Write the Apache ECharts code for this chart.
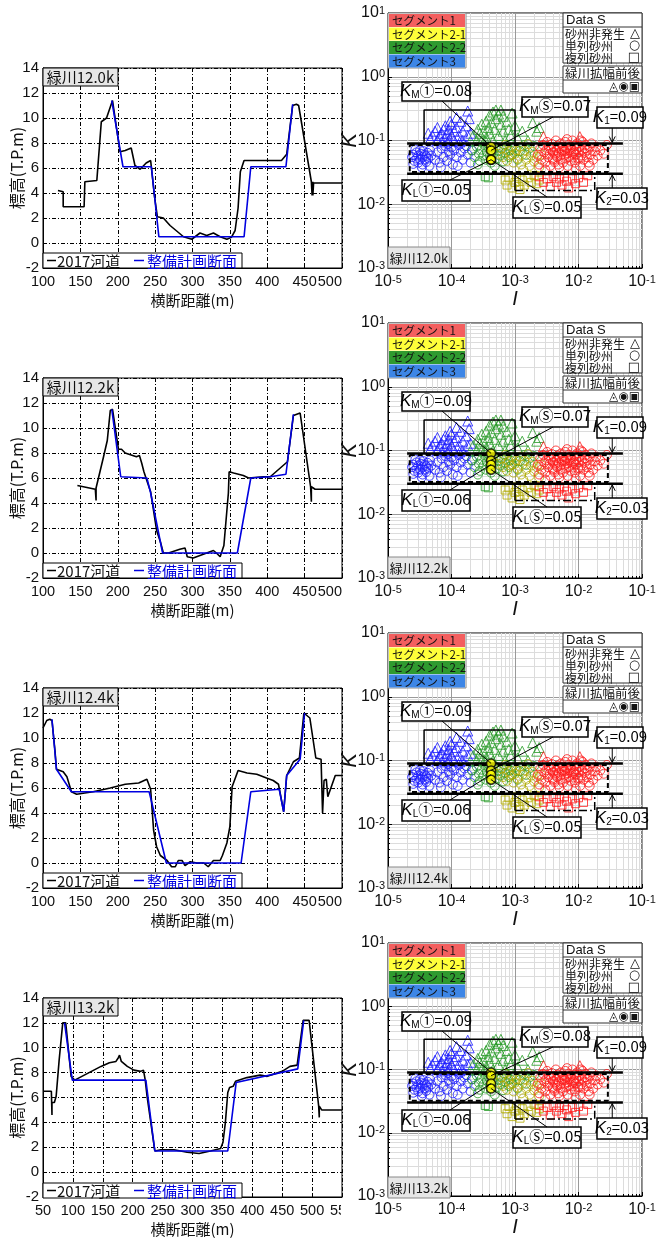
<!DOCTYPE html>
<html><head><meta charset="utf-8">
<script src="https://cdn.jsdelivr.net/npm/echarts@6/dist/echarts.min.js"></script>
<style>html,body{margin:0;padding:0;background:#fff}#c{width:659px;height:1238px}</style>
</head><body><div id="c"></div>
<script>
// ---------------- data ----------------
const sections = ['緑川12.0k', '緑川12.2k', '緑川12.4k', '緑川13.2k'];
const xMin = [100, 100, 100, 50];
const xMax = [500, 500, 500, 550];

const river_120 = [[120,4.2],[127,4.1],[127,2.9],[155,2.9],[156,4.9],[172,5.0],[178,9.7],[185,10.0],[193,11.4],[203,7.3],[210,7.4],[218,7.6],[223,6.2],[230,5.9],[238,6.4],[244,6.6],[249,3.8],[253,2.1],[261,2.0],[270,1.4],[288,0.5],[299,0.3],[310,0.8],[319,0.6],[328,0.8],[337,0.5],[346,0.3],[352,0.45],[357,1.0],[361,2.8],[364,5.7],[369,6.6],[419,6.6],[426,7.1],[434,11.0],[439,11.1],[442,11.0],[459,4.9],[460,3.8],[461,4.9],[461,3.8],[462,4.8],[500,4.8]];
const plan_120 = [[192,11.4],[207,6.1],[245,6.1],[255,0.5],[369,0.5],[378,6.1],[425,6.1],[434,11.1]];

const river_122 = [[146,5.4],[170,5.1],[171,4.2],[171,5.2],[181,7.7],[186,9.0],[190,11.4],[193,11.5],[201,8.3],[205,8.3],[210,8.0],[225,7.7],[229,7.8],[232,7.2],[235,6.5],[240,5.6],[244,4.9],[252,1.8],[257,0.9],[261,0.0],[268,0.0],[273,0.1],[283,0.3],[290,0.4],[293,-0.3],[301,-0.4],[310,-0.2],[319,0.0],[328,0.2],[332,0.0],[337,-0.3],[339,-0.4],[342,0.6],[346,3.4],[348,4.8],[349,6.5],[355,6.4],[368,6.2],[375,6.0],[395,6.1],[404,6.1],[427,7.3],[435,11.0],[444,11.2],[458,5.3],[459,4.1],[459,5.3],[464,5.1],[500,5.1]];
const plan_122 = [[192,11.5],[204,6.1],[239,6.0],[244,4.8],[260,0.0],[360,0.0],[378,6.0],[404,6.1],[425,6.3],[435,11.1]];

const river_124 = [[100,10.8],[105,11.4],[109,11.5],[112,11.4],[116,9.0],[118,7.5],[127,7.3],[132,6.9],[138,5.7],[145,5.5],[167,5.7],[190,6.0],[210,6.3],[228,6.4],[239,6.7],[241,6.7],[244,5.9],[248,2.6],[252,1.3],[257,0.6],[266,0.2],[272,-0.3],[277,-0.3],[281,0.2],[286,0.2],[290,-0.2],[297,0.1],[306,0.0],[315,0.0],[321,-0.3],[328,0.2],[337,0.2],[340,0.6],[346,1.6],[350,2.9],[353,6.1],[361,7.4],[373,7.2],[386,7.1],[399,6.8],[408,6.6],[415,6.3],[422,4.1],[426,7.0],[435,8.1],[443,8.4],[449,12.0],[457,11.6],[465,8.4],[472,8.3],[474,4.0],[476,6.6],[479,6.7],[481,5.3],[491,7.0],[500,7.0]];
const plan_124 = [[112,11.5],[118,7.5],[138,5.7],[242,5.7],[265,0.0],[365,0.0],[378,5.7],[416,5.9],[422,4.1],[426,7.0],[444,8.3],[450,12.0]];

const river_132 = [[50,6.5],[64,6.5],[65,4.6],[65,5.6],[69,5.6],[72,6.1],[77,9.0],[83,12.0],[88,12.0],[97,7.7],[103,7.4],[119,7.8],[147,8.5],[161,8.8],[172,8.9],[176,9.2],[178,9.4],[181,8.9],[191,8.5],[202,8.2],[213,8.1],[218,8.2],[221,7.4],[224,6.1],[237,1.7],[247,1.8],[269,1.8],[291,1.6],[311,1.5],[330,1.7],[347,1.9],[351,2.4],[355,4.0],[359,6.4],[362,6.8],[368,6.9],[372,7.3],[391,7.6],[413,7.8],[425,7.7],[450,8.1],[463,8.5],[475,8.6],[485,12.2],[495,12.2],[511,5.3],[512,4.4],[512,5.3],[516,5.0],[550,5.0]];
const plan_132 = [[86,12.0],[99,7.4],[222,7.4],[237,1.7],[359,1.7],[373,7.2],[476,8.3],[486,12.2]];

const river2017 = [river_120, river_122, river_124, river_132];
const plans = [plan_120, plan_122, plan_124, plan_132];

// Data S (I, K)
const seg3Circle = [[2.4e-5,0.055],[2.5e-5,0.06],[2.6e-5,0.048],[2.8e-5,0.065],[2.8e-5,0.052],[3.0e-5,0.058],[3.0e-5,0.045],[3.2e-5,0.07],[3.2e-5,0.05],[3.3e-5,0.062],[3.5e-5,0.055],[3.5e-5,0.042],[3.6e-5,0.068],[3.8e-5,0.05],[3.8e-5,0.06],[4.0e-5,0.057],[4.0e-5,0.046],[4.2e-5,0.064],[4.3e-5,0.052],[4.5e-5,0.04],[4.6e-5,0.07],[4.8e-5,0.058],[2.5e-5,0.043],[2.7e-5,0.072],[3.4e-5,0.038],[5.5e-5,0.05],[6.0e-5,0.065],[6.5e-5,0.045],[7.0e-5,0.075],[7.5e-5,0.055],[8.0e-5,0.082],[8.5e-5,0.048],[9.0e-5,0.068],[9.5e-5,0.06],[1.0e-4,0.078],[1.05e-4,0.042],[1.1e-4,0.07],[1.2e-4,0.055],[1.3e-4,0.085],[1.4e-4,0.065],[1.5e-4,0.05],[1.6e-4,0.075],[1.8e-4,0.06],[2.0e-4,0.045],[2.1e-4,0.07],[6.8e-5,0.038],[1.25e-4,0.04],[1.7e-4,0.082],[8.8e-5,0.088]];
const seg3Tri = [[4.3e-5,0.13],[4.6e-5,0.105],[5.0e-5,0.12],[5.5e-5,0.14],[6.0e-5,0.1],[6.0e-5,0.16],[6.5e-5,0.12],[7.0e-5,0.13],[7.0e-5,0.095],[7.5e-5,0.15],[8.0e-5,0.11],[8.0e-5,0.17],[8.5e-5,0.13],[9.0e-5,0.1],[9.0e-5,0.15],[1.0e-4,0.12],[1.0e-4,0.18],[1.1e-4,0.14],[1.1e-4,0.1],[1.2e-4,0.16],[1.3e-4,0.12],[1.4e-4,0.2],[1.5e-4,0.14],[1.5e-4,0.1],[1.7e-4,0.17],[1.8e-4,0.12],[1.9e-4,0.22],[2.0e-4,0.13],[1.2e-4,0.23],[9.5e-5,0.2],[1.35e-4,0.095],[1.8e-4,0.29]];
const seg22Circle = [[2.1e-4,0.07],[2.3e-4,0.055],[2.5e-4,0.08],[2.7e-4,0.062],[2.8e-4,0.048],[3.0e-4,0.072],[3.2e-4,0.058],[3.3e-4,0.085],[3.5e-4,0.05],[3.6e-4,0.066],[3.8e-4,0.078],[4.0e-4,0.057],[4.2e-4,0.045],[4.4e-4,0.07],[4.6e-4,0.062],[5.0e-4,0.08],[5.2e-4,0.052],[5.5e-4,0.068],[5.8e-4,0.058],[6.2e-4,0.075],[6.5e-4,0.047],[7.0e-4,0.064],[7.5e-4,0.083],[8.0e-4,0.055],[8.5e-4,0.07],[9.0e-4,0.06],[1.0e-3,0.078],[1.1e-3,0.05],[1.2e-3,0.068],[1.4e-3,0.085],[1.5e-3,0.06],[1.7e-3,0.075],[2.0e-3,0.082],[2.6e-4,0.042],[4.8e-4,0.04]];
const seg22Tri = [[2.2e-4,0.12],[2.5e-4,0.1],[2.6e-4,0.15],[2.8e-4,0.13],[3.0e-4,0.18],[3.0e-4,0.1],[3.2e-4,0.14],[3.5e-4,0.2],[3.5e-4,0.11],[3.8e-4,0.16],[4.0e-4,0.13],[4.0e-4,0.25],[4.3e-4,0.19],[4.5e-4,0.1],[4.5e-4,0.28],[4.8e-4,0.15],[5.0e-4,0.22],[5.0e-4,0.3],[5.5e-4,0.12],[5.5e-4,0.26],[6.0e-4,0.18],[6.5e-4,0.14],[6.5e-4,0.24],[7.0e-4,0.1],[7.5e-4,0.2],[8.0e-4,0.15],[8.5e-4,0.12],[9.0e-4,0.27],[1.0e-3,0.17],[1.1e-3,0.11],[1.3e-3,0.14],[1.6e-3,0.1],[1.9e-3,0.19],[2.2e-3,0.14],[2.4e-3,0.16],[3.5e-4,0.095],[6.0e-4,0.3]];
const seg22Sq = [[3.4e-4,0.027],[3.8e-4,0.026]];
const seg21Circle = [[5.5e-4,0.062],[6.0e-4,0.075],[6.5e-4,0.055],[7.0e-4,0.085],[7.5e-4,0.048],[8.0e-4,0.068],[8.5e-4,0.058],[9.0e-4,0.078],[9.5e-4,0.045],[1.0e-3,0.062],[1.05e-3,0.07],[1.1e-3,0.052],[1.2e-3,0.08],[1.25e-3,0.042],[1.3e-3,0.06],[1.4e-3,0.07],[1.5e-3,0.05],[1.6e-3,0.088],[1.7e-3,0.04],[1.8e-3,0.058],[1.9e-3,0.066],[2.0e-3,0.047],[2.2e-3,0.055],[2.4e-3,0.038],[2.6e-3,0.06],[1.35e-3,0.035]];
const seg21Sq = [[7.0e-4,0.024],[7.5e-4,0.02],[8.0e-4,0.026],[9.0e-4,0.018],[1.0e-3,0.022],[1.05e-3,0.027],[1.15e-3,0.019],[1.3e-3,0.024],[1.4e-3,0.02],[1.6e-3,0.026],[1.8e-3,0.022],[2.0e-3,0.028],[2.2e-3,0.021],[2.4e-3,0.024],[1.2e-3,0.017]];
const seg1Circle = [[2.3e-3,0.06],[2.5e-3,0.075],[2.6e-3,0.05],[2.8e-3,0.085],[2.9e-3,0.065],[3.0e-3,0.045],[3.1e-3,0.07],[3.2e-3,0.095],[3.3e-3,0.055],[3.4e-3,0.08],[3.5e-3,0.062],[3.6e-3,0.04],[3.7e-3,0.072],[3.8e-3,0.088],[3.9e-3,0.052],[4.0e-3,0.066],[4.1e-3,0.078],[4.2e-3,0.046],[4.3e-3,0.06],[4.4e-3,0.1],[4.5e-3,0.07],[4.6e-3,0.055],[4.7e-3,0.083],[4.8e-3,0.042],[4.9e-3,0.065],[5.0e-3,0.075],[5.2e-3,0.05],[5.3e-3,0.09],[5.4e-3,0.06],[5.5e-3,0.07],[5.7e-3,0.045],[5.8e-3,0.08],[6.0e-3,0.058],[6.1e-3,0.068],[6.2e-3,0.095],[6.4e-3,0.052],[6.5e-3,0.075],[6.7e-3,0.063],[6.8e-3,0.04],[7.0e-3,0.085],[7.1e-3,0.056],[7.3e-3,0.07],[7.5e-3,0.048],[7.6e-3,0.078],[7.8e-3,0.062],[8.0e-3,0.1],[8.2e-3,0.054],[8.4e-3,0.068],[8.6e-3,0.082],[8.8e-3,0.045],[9.0e-3,0.06],[9.2e-3,0.073],[9.5e-3,0.09],[9.8e-3,0.052],[1.0e-2,0.066],[1.03e-2,0.08],[1.06e-2,0.04],[1.1e-2,0.058],[1.13e-2,0.072],[1.16e-2,0.095],[1.2e-2,0.05],[1.25e-2,0.064],[1.3e-2,0.085],[1.35e-2,0.055],[1.4e-2,0.07],[1.45e-2,0.045],[1.5e-2,0.078],[1.55e-2,0.06],[1.6e-2,0.09],[1.7e-2,0.05],[1.8e-2,0.068],[1.9e-2,0.08],[2.0e-2,0.058],[2.2e-2,0.07],[2.5e-2,0.062],[2.8e-2,0.085],[3.0e-3,0.035],[5.0e-3,0.038],[9.0e-3,0.036],[1.5e-2,0.04],[2.4e-3,0.042],[6.6e-3,0.105],[1.1e-2,0.1],[4.0e-3,0.05],[5.9e-3,0.072],[8.5e-3,0.064],[1.25e-2,0.075],[1.05e-2,0.052]];
const seg1Tri = [[2.8e-3,0.115],[1.05e-2,0.115]];
const seg1Sq = [[2.4e-3,0.027],[2.8e-3,0.022],[3.2e-3,0.025],[3.6e-3,0.019],[4.0e-3,0.027],[4.5e-3,0.022],[5.0e-3,0.025],[5.5e-3,0.02],[6.0e-3,0.027],[6.5e-3,0.023],[7.0e-3,0.018],[8.0e-3,0.025],[9.0e-3,0.021],[1.0e-2,0.026],[1.2e-2,0.022],[1.4e-2,0.028]];

// section values (緑川拡幅前後)
const I_section = 4.2e-4;
const KM1 = [0.08, 0.09, 0.09, 0.09];
const KMS = [0.07, 0.07, 0.07, 0.08];
const KL1 = [0.05, 0.06, 0.06, 0.06];
const KLS = [0.05, 0.05, 0.05, 0.05];
const K1 = 0.09, K2 = 0.03;
// guide shapes (I, K)
const K1line = [[2.0e-5, K1], [0.05, K1]];
const K2line = [[2.0e-5, K2], [0.05, K2]];
const dashRect = [[2.2e-5,0.085],[0.029,0.085],[0.029,0.032],[2.2e-5,0.032],[2.2e-5,0.085]];
const kmRect = [[3.7e-5,0.09],[3.7e-5,0.3],[1e-3,0.3],[1e-3,0.09]];
const lowLeft = [[1e-3,0.03],[1e-3,0.0165]];
const lowBottom = [[1e-3,0.0165],[0.018,0.0165],[0.018,0.03]];
const I_arrow = 0.034;

// ---------------- layout ----------------
const FONT = "'Liberation Sans','Noto Sans CJK JP',sans-serif";
const JP = "'Noto Sans CJK JP','Liberation Sans',sans-serif";
const ROW = 310;
const L = {left:43, top:68, width:299, height:200};
const R = {left:388, top:13, width:254, height:255};

const chart = echarts.init(document.getElementById('c'), null, {width:659, height:1238});

const grids = [], xAxes = [], yAxes = [], series = [];
const dashdot = [4, 2, 1, 2];

for (let i = 0; i < 4; i++) {
  grids.push({left:L.left, top:L.top + ROW*i, width:L.width, height:L.height, show:true, borderColor:'#000', borderWidth:1, backgroundColor:'#fff'});
}
for (let i = 0; i < 4; i++) {
  grids.push({left:R.left, top:R.top + ROW*i, width:R.width, height:R.height, show:true, borderColor:'#000', borderWidth:1, backgroundColor:'#fff'});
}
for (let i = 0; i < 4; i++) {
  xAxes.push({type:'value', gridIndex:i, min:xMin[i], max:xMax[i], interval:50,
    axisLine:{show:true, onZero:false, lineStyle:{color:'#000'}}, axisTick:{show:true, inside:true, length:4, lineStyle:{color:'#000'}},
    axisLabel:{color:'#111', fontSize:14.5, fontFamily:FONT, margin:7, alignMaxLabel: i < 3 ? 'right' : 'center'},
    splitLine:{show:true, lineStyle:{color:'#000', type:dashdot, width:1}},
    name:'横断距離(m)', nameLocation:'middle', nameGap:25, nameMoveOverlap:false, nameTextStyle:{color:'#111', fontSize:15, fontFamily:JP}});
  yAxes.push({type:'value', gridIndex:i, min:-2, max:14, interval:2,
    axisLine:{show:true, onZero:false, lineStyle:{color:'#000'}}, axisTick:{show:true, inside:true, length:4, lineStyle:{color:'#000'}},
    axisLabel:{color:'#111', fontSize:15, fontFamily:FONT, margin:4},
    splitLine:{show:true, lineStyle:{color:'#000', type:dashdot, width:1}},
    name:'標高(T.P.m)', nameLocation:'middle', nameGap:18, nameMoveOverlap:false, nameRotate:90, nameTextStyle:{color:'#111', fontSize:16, fontFamily:JP}});
}
const supRich = {b:{fontSize:16, fontFamily:FONT, color:'#111', verticalAlign:'bottom', lineHeight:16},
                 s:{fontSize:11, fontFamily:FONT, color:'#111', verticalAlign:'top', lineHeight:11, padding:[0,0,9,0]}};
const supFmt = v => '{b|10}{s|' + Math.round(Math.log10(v)) + '}';
for (let i = 0; i < 4; i++) {
  xAxes.push({type:'log', logBase:10, gridIndex:4+i, min:1e-5, max:0.1,
    axisLine:{show:true, onZero:false, lineStyle:{color:'#000'}}, axisTick:{show:true, inside:true, length:4, lineStyle:{color:'#000'}},
    minorTick:{show:true, splitNumber:9, length:2, lineStyle:{color:'#000'}},
    axisLabel:{formatter:supFmt, rich:supRich, margin:6},
    splitLine:{show:true, lineStyle:{color:'#9a9a9a', width:1}},
    minorSplitLine:{show:true, lineStyle:{color:'#dcdcdc', width:1}},
    name:'I', nameLocation:'middle', nameGap:21, nameMoveOverlap:false, nameTextStyle:{color:'#111', fontSize:20, fontStyle:'italic', fontFamily:FONT}});
  yAxes.push({type:'log', logBase:10, gridIndex:4+i, min:1e-3, max:10,
    axisLine:{show:true, onZero:false, lineStyle:{color:'#000'}}, axisTick:{show:true, inside:true, length:4, lineStyle:{color:'#000'}},
    minorTick:{show:true, splitNumber:9, length:2, lineStyle:{color:'#000'}},
    axisLabel:{formatter:supFmt, rich:supRich, margin:3},
    splitLine:{show:true, lineStyle:{color:'#9a9a9a', width:1}},
    minorSplitLine:{show:true, lineStyle:{color:'#dcdcdc', width:1}},
    name:'K', nameLocation:'middle', nameGap:27, nameMoveOverlap:false, nameRotate:90, nameTextStyle:{color:'#111', fontSize:22, fontStyle:'italic', fontFamily:FONT}});
}

// left series
for (let i = 0; i < 4; i++) {
  series.push({type:'line', name:'2017河道', xAxisIndex:i, yAxisIndex:i, data:river2017[i], showSymbol:false, symbol:'none', silent:true,
    lineStyle:{color:'#000', width:1.6}, z:3});
  series.push({type:'line', name:'整備計画断面', xAxisIndex:i, yAxisIndex:i, data:plans[i], showSymbol:false, symbol:'none', silent:true,
    lineStyle:{color:'#0000e0', width:1.6}, z:4});
}
// right series
const hollow = (data, sym, size, color, idx) => ({type:'scatter', xAxisIndex:idx, yAxisIndex:idx, data, symbol:sym, symbolSize:size, silent:true,
  itemStyle:{color:'rgba(0,0,0,0)', borderColor:color, borderWidth:1}, z:3});
const guide = (data, idx, width, type) => ({type:'line', xAxisIndex:idx, yAxisIndex:idx, data, showSymbol:false, symbol:'none', silent:true,
  lineStyle:{color:'#000', width, type}, z:5});
const RED = '#ff1a1a', OLIVE = '#b0aa00', GREEN = '#249a24', BLUE = '#1a1aff';
const firstRightSeries = [];
for (let i = 0; i < 4; i++) {
  const idx = 4 + i;
  firstRightSeries.push(series.length);
  series.push(hollow(seg3Circle, 'circle', 9, BLUE, idx));
  series.push(hollow(seg3Tri, 'triangle', 10, BLUE, idx));
  series.push(hollow(seg22Circle, 'circle', 9, GREEN, idx));
  series.push(hollow(seg22Tri, 'triangle', 10, GREEN, idx));
  series.push(hollow(seg22Sq, 'rect', 8, GREEN, idx));
  series.push(hollow(seg21Circle, 'circle', 9, OLIVE, idx));
  series.push(hollow(seg21Sq, 'rect', 8, OLIVE, idx));
  series.push(hollow(seg1Circle, 'circle', 9, RED, idx));
  series.push(hollow(seg1Tri, 'triangle', 10, RED, idx));
  series.push(hollow(seg1Sq, 'rect', 8, RED, idx));
  series.push(guide(kmRect, idx, 1.5, 'solid'));
  series.push(guide(dashRect, idx, 2, [5, 3]));
  series.push(guide(K1line, idx, 2.5, 'solid'));
  series.push(guide(K2line, idx, 2.5, 'solid'));
  series.push(guide(lowLeft, idx, 1.5, 'solid'));
  series.push(guide(lowBottom, idx, 1.5, [8, 3, 2, 3]));
  series.push({type:'scatter', xAxisIndex:idx, yAxisIndex:idx, silent:true, symbol:'circle', symbolSize:9,
    data:[[I_section, KM1[i]], [I_section, KMS[i]], [I_section, KL1[i]], [I_section, KLS[i]]],
    itemStyle:{color:'#ffff00', borderColor:'#000', borderWidth:1.5}, z:8});
}

chart.setOption({animation:false, backgroundColor:'#fff', grid:grids, xAxis:xAxes, yAxis:yAxes, series});

// ---------------- annotations (graphic) ----------------
const G = [];
const rect = (x, y, w, h, fill, stroke, lw) => ({type:'rect', shape:{x, y, width:w, height:h}, style:{fill, stroke, lineWidth:lw == null ? 1 : lw}, z:100, silent:true});
const text = (x, y, t, o) => ({type:'text', x, y, silent:true, z:102, style:Object.assign({text:t, fill:'#111', fontSize:15, fontFamily:JP,
  align:'left', verticalAlign:'middle', textAlign:'left', textVerticalAlign:'middle'}, o || {})});
const line = (x1, y1, x2, y2, lw, color, dash) => ({type:'line', shape:{x1, y1, x2, y2}, style:{stroke:color || '#000', lineWidth:lw || 1, lineDash:dash || null}, z:101, silent:true});
const kRich = {k:{fontSize:17, fontStyle:'italic', fontFamily:FONT, color:'#111', verticalAlign:'top', lineHeight:18},
  s:{fontSize:10, fontFamily:FONT, color:'#111', verticalAlign:'bottom', lineHeight:10, padding:[10,0,0,0]},
  n:{fontSize:15, fontFamily:JP, color:'#111', verticalAlign:'top', lineHeight:18}};
const kText = (x, y, sub, rest) => ({type:'text', x, y, silent:true, z:103, style:{text:'{k|K}{s|' + sub + '}{n|' + rest + '}', rich:kRich,
  align:'center', verticalAlign:'middle', textAlign:'center', textVerticalAlign:'middle'}});

const segNames = ['セグメント1', 'セグメント2-1', 'セグメント2-2', 'セグメント3'];
const segFill = ['#f35f5f', '#ffff3a', '#2f9a2f', '#3d86e6'];

for (let i = 0; i < 4; i++) {
  const lt = L.top + ROW*i;
  // left title
  G.push(rect(L.left, lt, 75, 18, '#e6e6e6', '#000', 1));
  G.push(text(L.left + 37.5, lt + 9.5, sections[i], {align:'center', textAlign:'center', fontSize:15}));
  // left legend
  const ly = lt + L.height - 15;
  G.push(rect(L.left, ly, 199, 15, '#fff', '#000', 1));
  G.push(line(47, ly + 7.5, 56, ly + 7.5, 1.5, '#000'));
  G.push(text(57, ly + 8, '2017河道', {fontSize:15}));
  G.push(line(134, ly + 7.5, 144, ly + 7.5, 1.5, '#0000e0'));
  G.push(text(147, ly + 8, '整備計画断面', {fontSize:15, fill:'#0000e0'}));

  // right
  const rt = R.top + ROW*i, rl = R.left;
  // segment legend
  G.push(rect(rl, rt, 78, 55, '#fff', '#888', 1));
  for (let s = 0; s < 4; s++) {
    G.push(rect(rl + 1, rt + 1 + s*13.5, 76, 13, segFill[s], null, 0));
    G.push(text(rl + 4, rt + 8 + s*13.5, segNames[s], {fontSize:11.5}));
  }
  // Data S legend
  const dx = 563;
  G.push(rect(dx, rt, 79, 50, '#fff', '#333', 1));
  G.push(line(dx, rt + 14, dx + 79, rt + 14, 1, '#333'));
  G.push(text(dx + 3, rt + 7.5, 'Data S', {fontSize:13, fontFamily:FONT}));
  G.push(text(dx + 2, rt + 21, '砂州非発生', {fontSize:12}));
  G.push(text(dx + 2, rt + 33, '単列砂州', {fontSize:12}));
  G.push(text(dx + 2, rt + 45, '複列砂州', {fontSize:12}));
  G.push(text(dx + 77, rt + 21, '△', {fontSize:13, fontFamily:"'DejaVu Sans',sans-serif", align:'right', textAlign:'right'}));
  G.push(text(dx + 77, rt + 33, '○', {fontSize:13, fontFamily:"'DejaVu Sans',sans-serif", align:'right', textAlign:'right'}));
  G.push(text(dx + 77, rt + 45, '□', {fontSize:13, fontFamily:"'DejaVu Sans',sans-serif", align:'right', textAlign:'right'}));
  G.push(rect(dx, rt + 53, 79, 27, '#fff', '#333', 1));
  G.push(line(dx, rt + 67, dx + 79, rt + 67, 1, '#333'));
  G.push(text(dx + 2, rt + 60.5, '緑川拡幅前後', {fontSize:12.5}));
  G.push(text(dx + 77, rt + 74, '◬◉▣', {fontSize:12, fontFamily:"'DejaVu Sans',sans-serif", align:'right', textAlign:'right'}));
  // section label
  G.push(rect(rl, rt + R.height - 21, 62, 21, '#e6e6e6', '#888', 1));
  G.push(text(rl + 31, rt + R.height - 10, sections[i], {fontSize:13, align:'center', textAlign:'center'}));

  // annotations
  const sid = firstRightSeries[i];
  const P = (I, K) => chart.convertToPixel({seriesIndex:sid}, [I, K]);
  const boxes = [
    {x:rl + 14, y:rt + 69, w:68, h:19, sub:'M', rest:'①=' + KM1[i].toFixed(2), ax:rl + 54, ay:rt + 88, K:KM1[i]},
    {x:rl + 134, y:rt + 84, w:66, h:20, sub:'M', rest:'Ⓢ=' + KMS[i].toFixed(2), ax:rl + 165, ay:rt + 104, K:KMS[i]},
    {x:rl + 14, y:rt + 167, w:68, h:21, sub:'L', rest:'①=' + KL1[i].toFixed(2), ax:rl + 62, ay:rt + 167, K:KL1[i]},
    {x:rl + 125, y:rt + 184, w:68, h:21, sub:'L', rest:'Ⓢ=' + KLS[i].toFixed(2), ax:rl + 159, ay:rt + 184, K:KLS[i]}
  ];
  boxes.forEach(b => {
    const p = P(I_section, b.K);
    G.push(line(b.ax, b.ay, p[0], p[1], 1, '#000'));
    G.push(rect(b.x, b.y, b.w, b.h, '#fff', '#000', 1.5));
    G.push(kText(b.x + b.w/2, b.y + b.h/2, b.sub, b.rest));
  });
  // K1 / K2
  const p1 = P(I_arrow, K1), p2 = P(I_arrow, K2);
  G.push(rect(rl + 209, rt + 94, 46, 21, '#fff', '#000', 1.5));
  G.push(kText(rl + 232, rt + 104.5, '1', '=' + K1.toFixed(2)));
  G.push(line(p1[0], rt + 115, p1[0], p1[1] - 1, 1, '#000'));
  G.push({type:'polyline', shape:{points:[[p1[0]-3, p1[1]-7],[p1[0], p1[1]-1],[p1[0]+3, p1[1]-7]]}, style:{stroke:'#000', lineWidth:1, fill:null}, z:101, silent:true});
  G.push(rect(rl + 209, rt + 175, 50, 21, '#fff', '#000', 1.5));
  G.push(kText(rl + 234, rt + 185.5, '2', '=' + K2.toFixed(2)));
  G.push(line(p2[0], rt + 175, p2[0], p2[1] + 1, 1, '#000'));
  G.push({type:'polyline', shape:{points:[[p2[0]-3, p2[1]+7],[p2[0], p2[1]+1],[p2[0]+3, p2[1]+7]]}, style:{stroke:'#000', lineWidth:1, fill:null}, z:101, silent:true});
}
// the reference clips the last bottom-panel tick label at the column boundary
G.push(rect(341, L.top + ROW*3 + L.height + 2, 18, 18, '#fff', null, 0));
chart.setOption({graphic:{elements:G}});
</script></body></html>
